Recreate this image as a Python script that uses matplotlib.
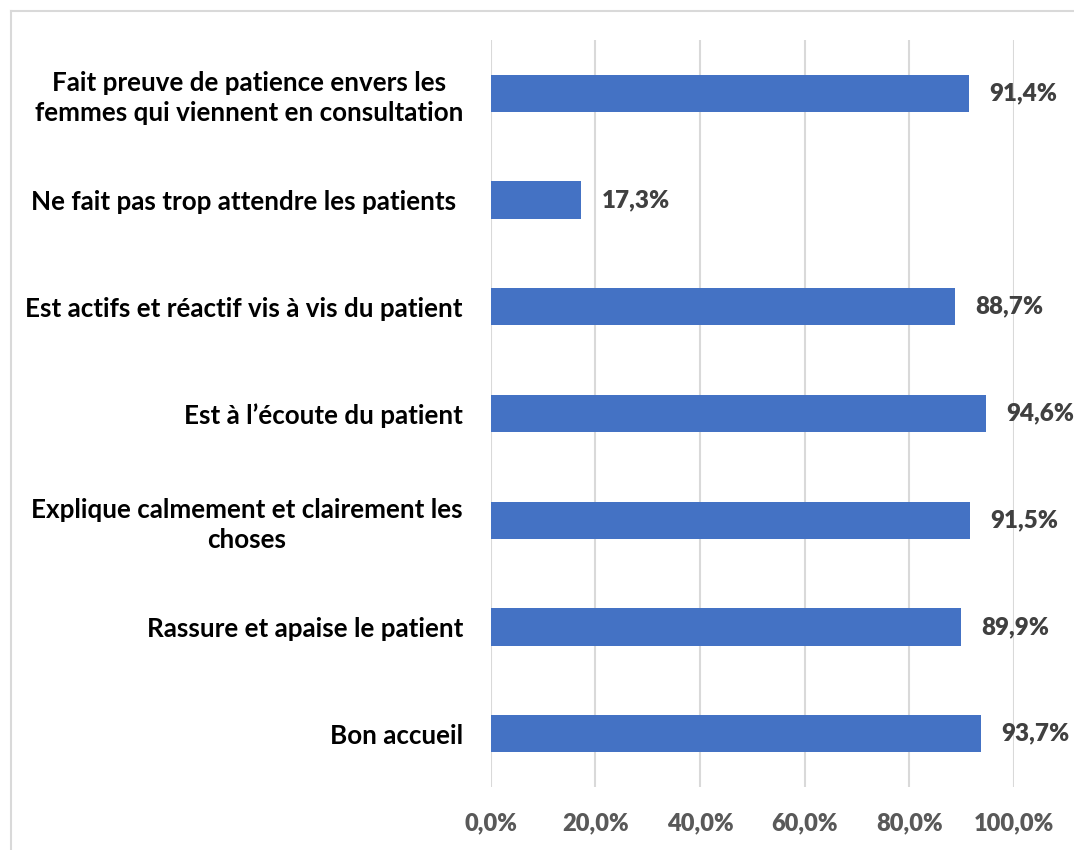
import matplotlib
matplotlib.use("Agg")
import matplotlib.pyplot as plt

categories = [
    "Bon accueil",
    "Rassure et apaise le patient",
    "Explique calmement et clairement les\nchoses",
    "Est à l\u2019écoute du patient",
    "Est actifs et réactif vis à vis du patient",
    "Ne fait pas trop attendre les patients ",
    "Fait preuve de patience envers les\nfemmes qui viennent en consultation",
]
values = [93.7, 89.9, 91.5, 94.6, 88.7, 17.3, 91.4]
value_labels = ["93,7%", "89,9%", "91,5%", "94,6%", "88,7%", "17,3%", "91,4%"]
xticks = [0, 20, 40, 60, 80, 100]
xtick_labels = ["0,0%", "20,0%", "40,0%", "60,0%", "80,0%", "100,0%"]

plt.rcParams['font.family'] = ['Lato', 'DejaVu Sans']

fig = plt.figure(figsize=(10.74, 8.5), dpi=100)
ax = fig.add_axes([490.7 / 1074, 63 / 850, (1014 - 490.7) / 1074, (787 - 40) / 850])

ypos = list(range(len(categories)))
ax.barh(ypos, values, height=0.35, color='#4472C4', zorder=3)
for y, v, lab in zip(ypos, values, value_labels):
    ax.text(v + 3.9, y, lab, va='center', ha='left', fontsize=17.4, fontweight='heavy',
            color='#404040', zorder=4)

ax.set_xlim(0, 100)
ax.set_ylim(-0.5, len(categories) - 0.5)
ax.set_xticks(xticks)
ax.set_xticklabels(xtick_labels, fontsize=17, fontweight='heavy', color='#595959')
ax.set_yticks(ypos)
ax.set_yticklabels(categories, fontsize=18.7, fontweight='bold', color='black',
                   multialignment='center', linespacing=1.3)
ax.tick_params(axis='both', length=0)
ax.tick_params(axis='y', pad=20)
ax.tick_params(axis='x', pad=18)
ax.xaxis.grid(True, color='#d9d9d9', linewidth=1.5, zorder=0)
for s in ax.spines.values():
    s.set_visible(False)

# outer border (left and top edges visible)
fig.add_artist(plt.Line2D([10.5 / 1074, 10.5 / 1074], [0, 1 - 10.5 / 850], transform=fig.transFigure,
                          color='#d9d9d9', linewidth=1.5))
fig.add_artist(plt.Line2D([10.5 / 1074, 1], [1 - 10.5 / 850, 1 - 10.5 / 850], transform=fig.transFigure,
                          color='#d9d9d9', linewidth=1.5))

fig.savefig("out.png", dpi=100)
